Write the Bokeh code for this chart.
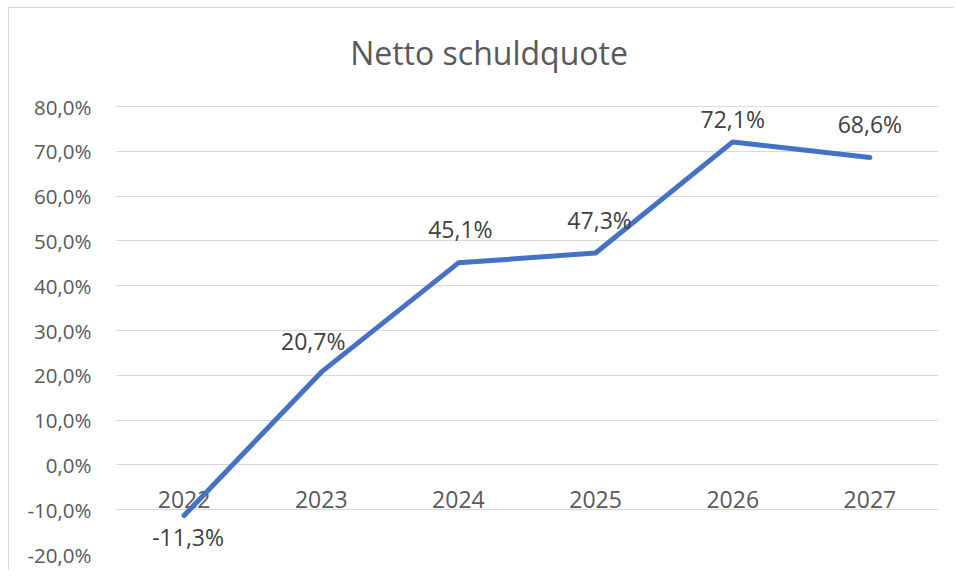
from bokeh.plotting import figure
from bokeh.models import Range1d, FixedTicker, ColumnDataSource
from bokeh.core.properties import value
from bokeh.embed import file_html
from bokeh.resources import INLINE

# ---- data ----
years = ["2022", "2023", "2024", "2025", "2026", "2027"]
quote = [-11.3, 20.7, 45.1, 47.3, 72.1, 68.6]
quote_labels = ["-11,3%", "20,7%", "45,1%", "47,3%", "72,1%", "68,6%"]
y_ticks = [-20, -10, 0, 10, 20, 30, 40, 50, 60, 70, 80]
y_tick_labels = ["-20,0%", "-10,0%", "0,0%", "10,0%", "20,0%", "30,0%",
                 "40,0%", "50,0%", "60,0%", "70,0%", "80,0%"]
title_text = "Netto schuldquote"

# label offsets (pixels) for the data labels
label_dx = [4, -8, 2, 4, 0, 0]
label_dy = [21, -31, -34, -33, -23, -34]

FONT = "Open Sans"
AXIS_GREY = "#595959"
LABEL_GREY = "#404040"
GRID = "#D9D9D9"
BLUE = "#4472C4"

xs = list(range(len(years)))

# plot area: 448 px for the -20..80 axis; the frame extends 98 px above the
# top gridline so the title can be drawn inside it
Y_MIN, Y_MAX = -20, 80
PX_PER_UNIT = 448 / (Y_MAX - Y_MIN)
y_top = Y_MAX + 98 / PX_PER_UNIT

p = figure(width=946, height=563, output_backend="svg", toolbar_location=None,
           x_range=Range1d(-0.5, len(years) - 0.5), y_range=Range1d(Y_MIN, y_top),
           min_border_left=106, min_border_right=17, min_border_top=0,
           min_border_bottom=17)
p.styles = {"margin-left": "8px", "margin-top": "7px",
            "border-left": "1px solid #d9d9d9", "border-top": "1px solid #d9d9d9"}

p.outline_line_color = None
p.xaxis.visible = False
p.xgrid.visible = False

p.yaxis.ticker = FixedTicker(ticks=y_ticks)
p.yaxis.major_label_overrides = {t: s for t, s in zip(y_ticks, y_tick_labels)}
p.yaxis.axis_line_color = None
p.yaxis.major_tick_line_color = None
p.yaxis.minor_tick_line_color = None
p.yaxis.major_tick_out = 0
p.yaxis.major_tick_in = 0
p.yaxis.major_label_standoff = 24
p.yaxis.major_label_text_font = FONT
p.yaxis.major_label_text_font_size = "20.5px"
p.yaxis.major_label_text_color = AXIS_GREY

p.ygrid.ticker = FixedTicker(ticks=y_ticks)
p.ygrid.grid_line_color = GRID
p.ygrid.grid_line_width = 1

# chart title (centred on the chart area, above the top gridline)
p.text(x=[(len(years) - 1) / 2], y=[Y_MAX], text=[title_text], x_offset=-38,
       y_offset=-54, text_align="center", text_baseline="alphabetic",
       text_font=value(FONT), text_font_size="32px", text_color=AXIS_GREY)

# category labels at the zero line
cat_src = ColumnDataSource(dict(x=xs, y=[0] * len(xs), t=years))
p.text(x="x", y="y", text="t", source=cat_src, text_align="center",
       text_baseline="alphabetic", y_offset=35, text_font=value(FONT),
       text_font_size="23px", text_color=AXIS_GREY)

# the series
p.line(xs, quote, line_width=5, line_color=BLUE, line_cap="round", line_join="round")

# data labels
lab_src = ColumnDataSource(dict(x=xs, y=quote, t=quote_labels, dx=label_dx, dy=label_dy))
p.text(x="x", y="y", text="t", source=lab_src, x_offset="dx", y_offset="dy",
       text_align="center", text_baseline="alphabetic", text_font=value(FONT),
       text_font_size="23px", text_color=LABEL_GREY)

open("out.html", "w").write(file_html(p, INLINE))
